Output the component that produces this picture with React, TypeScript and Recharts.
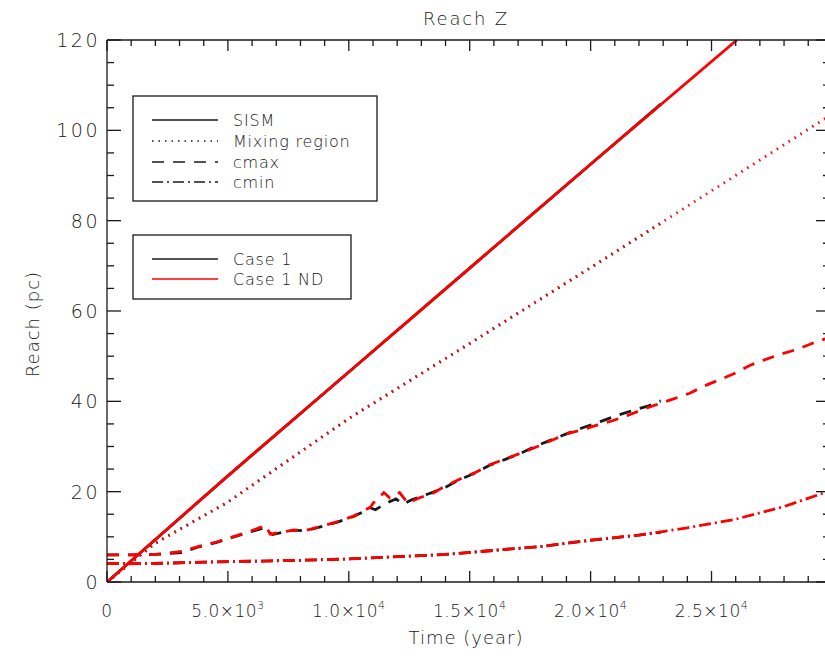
import React from 'react';
import { LineChart, Line, XAxis, YAxis } from 'recharts';

// plot box (pixels) – the right edge sits just past the picture, as in the original
const W = 831;
const H = 656;
const LEFT = 107;
const RIGHT = 830;
const TOP = 40;
const BOTTOM = 582;

const FONT = '"DejaVu Sans", "Liberation Sans", sans-serif';
const WEIGHT = 200;
const RED = '#ff0000';
const INK = '#1a1a1a';

const X_MAX = 29900;
const X_TICKS = [
  0, 1000, 2000, 3000, 4000, 5000, 6000, 7000, 8000, 9000, 10000, 11000, 12000, 13000, 14000,
  15000, 16000, 17000, 18000, 19000, 20000, 21000, 22000, 23000, 24000, 25000, 26000, 27000,
  28000, 29000,
];
const Y_TICKS = [0, 5, 10, 15, 20, 25, 30, 35, 40, 45, 50, 55, 60, 65, 70, 75, 80, 85, 90, 95, 100, 105, 110, 115, 120];

// Case 1 ND (red)
const SISM_ND_T = [0, 5000, 10000, 15000, 20000, 26050];
const SISM_ND = [0, 23.5, 46.5, 69.5, 92.5, 120];

const MIX_ND_T = [0, 2000, 5000, 10000, 15000, 20000, 25000, 29900];
const MIX_ND = [0, 8.6, 17.7, 36.2, 52.8, 69.6, 86.6, 103.3];

const CMAX_ND_T = [
  0, 1000, 2000, 2500, 3100, 3800, 4500, 5200, 5800, 6400, 6550, 6750, 7700, 8200, 8900, 9500,
  10200, 10900, 11000, 11450, 11700, 12100, 12450, 12900, 13500, 13900, 14600, 15300, 15800,
  16500, 17100, 17800, 18400, 19000, 19600, 20300, 20900, 21500, 22200, 22800, 23400, 24100,
  24700, 25300, 26000, 26600, 27300, 27900, 28600, 29200, 29900,
];
const CMAX_ND = [
  6.0, 6.0, 6.1, 6.4, 6.8, 7.9, 8.8, 10.0, 11.0, 12.2, 12.6, 10.6, 11.5, 11.4, 12.4, 13.3,
  14.6, 16.6, 17.4, 19.8, 18.6, 19.8, 17.4, 18.6, 19.7, 21.0, 22.8, 24.4, 25.9,
  27.3, 28.5, 30.0, 31.4, 32.8, 33.6, 34.8, 35.7, 36.8, 38.3, 39.4, 40.5, 41.8,
  43.4, 44.7, 46.3, 48.0, 49.4, 50.5, 51.6, 52.9, 54.2,
];

const CMIN_ND_T = [0, 2000, 4000, 6000, 8000, 10000, 12000, 14000, 16000, 18000, 20000, 22000, 24000, 26000, 28000, 29900];
const CMIN_ND = [4.1, 4.1, 4.4, 4.6, 4.8, 5.1, 5.6, 6.1, 7.0, 7.9, 9.3, 10.4, 12.0, 13.9, 16.7, 20.2];

// Case 1 (black) – stops at about 2.3e4 years, mostly hidden under the red curves
const SISM_C1_T = [0, 5000, 10000, 15000, 20000, 22900];
const SISM_C1 = [0, 23.5, 46.5, 69.5, 92.5, 105.8];

const MIX_C1_T = [0, 2000, 5000, 10000, 15000, 20000, 22900];
const MIX_C1 = [0, 8.6, 17.7, 36.2, 52.8, 69.6, 79.4];

const CMAX_C1_T = [
  0, 1000, 2000, 2500, 3100, 3800, 4500, 5200, 5800, 6450, 6850, 7700, 8200, 8900, 9500, 10200,
  10900, 11100, 11500, 11950, 12250, 12600, 13500, 14000, 14600, 15300, 15800, 16500, 17100,
  17700, 18300, 19000, 19700, 20400, 21100, 21700, 22400, 22900,
];
const CMAX_C1 = [
  6.0, 6.0, 6.1, 6.3, 6.5, 7.8, 8.7, 9.9, 10.9, 11.9, 10.5, 11.5, 11.3, 12.3, 13.2, 14.5,
  16.4, 16.0, 17.3, 18.4, 17.2, 18.2, 19.9, 21.0, 22.7, 24.3, 25.8, 27.2, 28.5,
  30.0, 31.3, 32.8, 34.2, 35.5, 36.9, 37.9, 39.0, 40.1,
];

const CMIN_C1_T = [0, 2000, 4000, 6000, 8000, 10000, 12000, 14000, 16000, 18000, 20000, 22000, 22900];
const CMIN_C1 = [4.1, 4.1, 4.4, 4.6, 4.8, 5.1, 5.6, 6.1, 7.0, 7.9, 9.2, 10.4, 11.0];

const zip = (t: number[], v: number[]) => t.map((x, i) => ({ t: x, v: v[i] }));

const DASH = { solid: undefined, dotted: '1.5 5.5', dashed: '12 9', dashdot: '12 4 2 4' };

const SERIES = [
  { name: 'Case 1 SISM', data: zip(SISM_C1_T, SISM_C1), color: INK, dash: DASH.solid },
  { name: 'Case 1 Mixing', data: zip(MIX_C1_T, MIX_C1), color: INK, dash: DASH.dotted },
  { name: 'Case 1 cmax', data: zip(CMAX_C1_T, CMAX_C1), color: INK, dash: DASH.dashed },
  { name: 'Case 1 cmin', data: zip(CMIN_C1_T, CMIN_C1), color: INK, dash: DASH.dashdot },
  { name: 'ND SISM', data: zip(SISM_ND_T, SISM_ND), color: RED, dash: DASH.solid },
  { name: 'ND Mixing', data: zip(MIX_ND_T, MIX_ND), color: RED, dash: DASH.dotted },
  { name: 'ND cmax', data: zip(CMAX_ND_T, CMAX_ND), color: RED, dash: DASH.dashed },
  { name: 'ND cmin', data: zip(CMIN_ND_T, CMIN_ND), color: RED, dash: DASH.dashdot },
];

const fmtParts = (v: number) => {
  if (v === 0) return { m: '0', e: '' };
  const e = Math.floor(Math.log10(v));
  return { m: (v / Math.pow(10, e)).toFixed(1) + '×10', e: String(e) };
};

const XTick = (props: any) => {
  const { x, payload } = props;
  const v = payload.value as number;
  const major = v % 5000 === 0;
  const len = major ? 11 : 6;
  const { m, e } = fmtParts(v);
  return (
    <g>
      <line x1={x} x2={x} y1={BOTTOM} y2={BOTTOM - len} stroke={INK} strokeWidth={1.3} />
      <line x1={x} x2={x} y1={TOP} y2={TOP + len} stroke={INK} strokeWidth={1.3} />
      {major && (
        <text x={x} y={617} textAnchor="middle" fontFamily={FONT} fontWeight={WEIGHT} fontSize={17} fill={INK} letterSpacing={0.5}>
          {m}
          {e && (
            <tspan dy={-8} fontSize={11}>
              {e}
            </tspan>
          )}
        </text>
      )}
    </g>
  );
};

const YTick = (props: any) => {
  const { y, payload } = props;
  const v = payload.value as number;
  const major = v % 20 === 0;
  const len = major ? 14 : 7;
  return (
    <g>
      <line x1={LEFT} x2={LEFT + len} y1={y} y2={y} stroke={INK} strokeWidth={1.3} />
      <line x1={RIGHT - len} x2={RIGHT} y1={y} y2={y} stroke={INK} strokeWidth={1.3} />
      {major && (
        <text x={100} y={y + 7} textAnchor="end" fontFamily={FONT} fontWeight={WEIGHT} fontSize={19} fill={INK} letterSpacing={2.5}>
          {v}
        </text>
      )}
    </g>
  );
};

const LegendRow = ({ y, label, color, dash }: { y: number; label: string; color: string; dash?: string }) => (
  <g>
    <line x1={152} x2={218} y1={y} y2={y} stroke={color} strokeWidth={1.3} strokeDasharray={dash} />
    <text x={233} y={y + 6} fontFamily={FONT} fontWeight={WEIGHT} fontSize={16} fill={INK} letterSpacing={0.8}>
      {label}
    </text>
  </g>
);

export default function App() {
  return (
    <div style={{ position: 'absolute', left: 0, top: 0, width: 825, height: 656, overflow: 'hidden', background: '#fff' }}>
      <LineChart width={W} height={H} margin={{ top: TOP, right: W - RIGHT, bottom: 0, left: 0 }}>
        <XAxis
          type="number"
          dataKey="t"
          domain={[0, X_MAX]}
          allowDataOverflow
          ticks={X_TICKS}
          interval={0}
          height={H - BOTTOM}
          tickLine={false}
          axisLine={{ stroke: INK, strokeWidth: 1.3 }}
          tick={(p: any) => <XTick {...p} />}
        />
        <YAxis
          type="number"
          domain={[0, 120]}
          allowDataOverflow
          ticks={Y_TICKS}
          interval={0}
          width={LEFT}
          tickLine={false}
          axisLine={{ stroke: INK, strokeWidth: 1.3 }}
          tick={(p: any) => <YTick {...p} />}
        />
        {SERIES.map((s) => (
          <Line
            key={s.name}
            data={s.data}
            dataKey="v"
            type="linear"
            stroke={s.color}
            strokeWidth={2.8}
            strokeDasharray={s.dash}
            dot={false}
            activeDot={false}
            isAnimationActive={false}
          />
        ))}
      </LineChart>
      <svg width={825} height={656} style={{ position: 'absolute', left: 0, top: 0, pointerEvents: 'none' }}>
        <line x1={LEFT} x2={RIGHT} y1={TOP} y2={TOP} stroke={INK} strokeWidth={1.3} />
        <line x1={RIGHT} x2={RIGHT} y1={TOP} y2={BOTTOM} stroke={INK} strokeWidth={1.3} />
        <text x={466} y={25} textAnchor="middle" fontFamily={FONT} fontWeight={WEIGHT} fontSize={18} fill={INK} letterSpacing={1.8}>
          Reach Z
        </text>
        <text x={466} y={644} textAnchor="middle" fontFamily={FONT} fontWeight={WEIGHT} fontSize={18} fill={INK} letterSpacing={1}>
          Time (year)
        </text>
        <text
          x={0}
          y={0}
          transform="translate(39 324) rotate(-90)"
          textAnchor="middle"
          fontFamily={FONT}
          fontWeight={WEIGHT}
          fontSize={18}
          fill={INK}
          letterSpacing={1}
        >
          Reach (pc)
        </text>
        <rect x={133} y={96} width={244} height={105} fill="#fff" stroke={INK} strokeWidth={1.3} />
        <LegendRow y={120} label="SISM" color={INK} />
        <LegendRow y={141} label="Mixing region" color={INK} dash="1.5 5" />
        <LegendRow y={162} label="cmax" color={INK} dash="12 9" />
        <LegendRow y={182} label="cmin" color={INK} dash="11 4 2 4" />
        <rect x={133} y={235} width={218} height={64} fill="#fff" stroke={INK} strokeWidth={1.3} />
        <LegendRow y={259} label="Case 1" color={INK} />
        <LegendRow y={279} label="Case 1 ND" color={RED} />
      </svg>
    </div>
  );
}
